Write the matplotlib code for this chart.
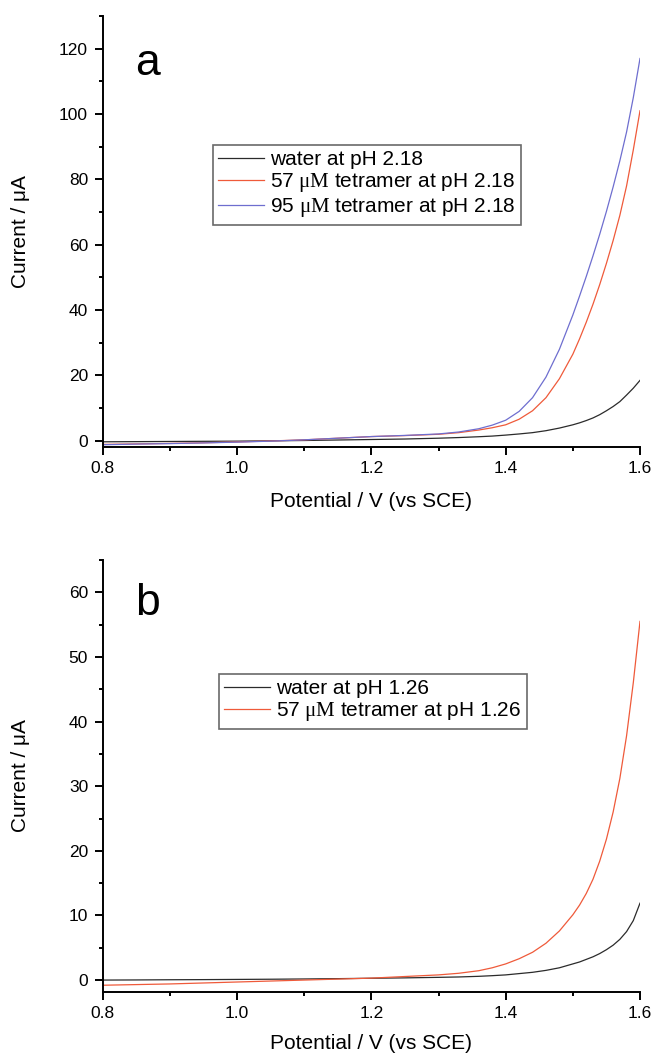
import numpy as np
import matplotlib
matplotlib.use("Agg")
import matplotlib.pyplot as plt
from matplotlib.ticker import MultipleLocator, FormatStrFormatter

plt.rcParams['font.family'] = ['Liberation Sans', 'DejaVu Sans']
plt.rcParams['mathtext.fontset'] = 'custom'
plt.rcParams['mathtext.rm'] = 'Liberation Serif'

# potential grid (V vs SCE)
potential = [0.80, 0.85, 0.90, 0.95, 1.00, 1.05, 1.10, 1.15, 1.20, 1.25, 1.30,
             1.33, 1.36, 1.38, 1.40, 1.42, 1.44, 1.46, 1.48, 1.50,
             1.51, 1.52, 1.53, 1.54, 1.55, 1.56, 1.57, 1.58, 1.59, 1.60]

# panel a, pH 2.18 (current in uA)
water_a = [-0.3, -0.25, -0.2, -0.15, -0.1, 0.0, 0.1, 0.25, 0.4, 0.55, 0.8,
           1.0, 1.25, 1.45, 1.75, 2.1, 2.5, 3.1, 3.9, 4.9,
           5.5, 6.2, 7.0, 8.0, 9.2, 10.5, 12.0, 14.0, 16.1, 18.5]
tet57_a = [-1.1, -0.95, -0.8, -0.6, -0.35, -0.05, 0.3, 0.8, 1.3, 1.6, 2.0,
           2.5, 3.3, 4.0, 4.9, 6.6, 9.2, 13.2, 19.0, 26.5,
           31.2, 36.3, 41.8, 47.8, 54.3, 61.3, 69.0, 78.0, 89.0, 101.0]
tet95_a = [-1.2, -1.0, -0.85, -0.65, -0.4, -0.1, 0.3, 0.8, 1.3, 1.65, 2.1,
           2.7, 3.7, 4.8, 6.3, 9.0, 13.2, 19.5, 28.0, 38.5,
           44.3, 50.3, 56.6, 63.2, 70.2, 77.7, 85.7, 94.5, 105.0, 117.0]

# panel b, pH 1.26
water_b = [0.0, 0.02, 0.05, 0.07, 0.1, 0.13, 0.17, 0.22, 0.28, 0.34, 0.42,
           0.48, 0.58, 0.68, 0.8, 1.0, 1.2, 1.5, 1.9, 2.5,
           2.8, 3.2, 3.6, 4.1, 4.7, 5.4, 6.3, 7.5, 9.2, 11.9]
tet57_b = [-0.8, -0.7, -0.6, -0.45, -0.3, -0.15, 0.0, 0.15, 0.3, 0.55, 0.8,
           1.05, 1.45, 1.9, 2.5, 3.3, 4.3, 5.7, 7.6, 10.1,
           11.6, 13.4, 15.6, 18.4, 21.8, 26.0, 31.2, 37.8, 46.0, 55.5]

labels_a = ["water at pH 2.18",
            r"57 $\mathrm{\mu M}$ tetramer at pH 2.18",
            r"95 $\mathrm{\mu M}$ tetramer at pH 2.18"]
labels_b = ["water at pH 1.26",
            r"57 $\mathrm{\mu M}$ tetramer at pH 1.26"]

black = '#2b2b2b'
red = '#ef5a3a'
blue = '#6e6ecf'

W, H = 654, 1056
fig = plt.figure(figsize=(W / 100, H / 100), dpi=100)
ax_a = fig.add_axes([102.7 / W, 1 - 446.7 / H, 537.3 / W, 430.7 / H])
ax_b = fig.add_axes([102.7 / W, 1 - 991.7 / H, 537.3 / W, 431.7 / H])


def style(ax, ymin, ymax, ymaj, letter, ly, xlab_y):
    for s in ('top', 'right'):
        ax.spines[s].set_visible(False)
    for s in ('left', 'bottom'):
        ax.spines[s].set_linewidth(1.4)
    ax.set_xlim(0.8, 1.6)
    ax.set_ylim(ymin, ymax)
    ax.xaxis.set_major_locator(MultipleLocator(0.2))
    ax.xaxis.set_minor_locator(MultipleLocator(0.1))
    ax.xaxis.set_major_formatter(FormatStrFormatter('%.1f'))
    ax.yaxis.set_major_locator(MultipleLocator(ymaj))
    ax.yaxis.set_minor_locator(MultipleLocator(ymaj / 2))
    ax.tick_params(which='major', direction='out', length=6, width=1.4,
                   labelsize=12.5, pad=4.5)
    ax.tick_params(which='minor', direction='out', length=3, width=1.4)
    ax.set_xlabel("Potential / V (vs SCE)", fontsize=15)
    ax.set_ylabel("Current / \u03bcA", fontsize=15)
    ax.xaxis.set_label_coords(0.5, xlab_y)
    ax.yaxis.set_label_coords(-0.135, 0.5)
    ax.text(0.084, ly, letter, transform=ax.transAxes, fontsize=32,
            ha='center', va='baseline')


ax_a.plot(potential, water_a, color=black, lw=0.9, label=labels_a[0])
ax_a.plot(potential, tet57_a, color=red, lw=0.9, label=labels_a[1])
ax_a.plot(potential, tet95_a, color=blue, lw=0.9, label=labels_a[2])
style(ax_a, -1.8, 130, 20, 'a', 0.863, -0.105)

ax_b.plot(potential, water_b, color=black, lw=0.9, label=labels_b[0])
ax_b.plot(potential, tet57_b, color=red, lw=0.9, label=labels_b[1])
style(ax_b, -1.8, 65, 10, 'b', 0.8726, -0.098)

for ax, (x0, y0) in ((ax_a, (213, 145)), (ax_b, (219, 674))):
    leg = ax.legend(loc='upper left', bbox_to_anchor=(x0 / W, 1 - y0 / H),
                    bbox_transform=fig.transFigure, fontsize=15,
                    frameon=True, fancybox=False, edgecolor='#444444',
                    handlelength=2.2, handletextpad=0.3, borderpad=0.25,
                    labelspacing=0.1, borderaxespad=0)
    leg.get_frame().set_linewidth(1.2)

fig.savefig("out.png", dpi=100)
